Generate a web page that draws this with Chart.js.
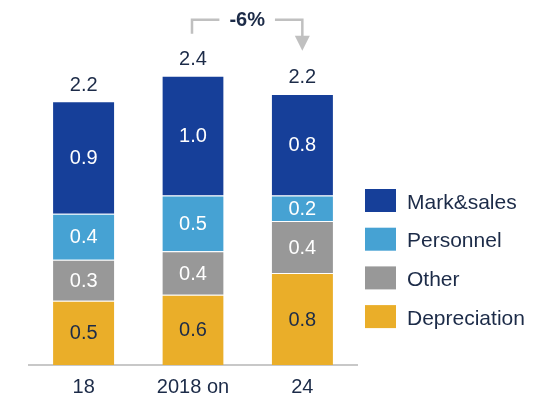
<!DOCTYPE html>
<html>
<head>
<meta charset="utf-8">
<script src="https://cdn.jsdelivr.net/npm/chart.js@4.4.1/dist/chart.umd.min.js"></script>
<style>
  html, body { margin: 0; padding: 0; background: #fff; }
</style>
</head>
<body>
<canvas id="costChart" width="549" height="397"></canvas>
<script>
const categories = ['18', '2018 on', '24'];
const depreciation = [0.53, 0.58, 0.76];
const other = [0.34, 0.36, 0.43];
const personnel = [0.38, 0.46, 0.21];
const markSales = [0.93, 0.99, 0.84];

const FONT = '"Liberation Sans", Arial, sans-serif';
const NAVY = '#1c2b48';

// value inside each stacked segment
const segmentLabels = {
  id: 'segmentLabels',
  afterDatasetsDraw(chart) {
    const ctx = chart.ctx;
    ctx.save();
    ctx.font = '20px ' + FONT;
    ctx.textAlign = 'center';
    ctx.textBaseline = 'middle';
    chart.data.datasets.forEach((ds, i) => {
      chart.getDatasetMeta(i).data.forEach((bar, j) => {
        ctx.fillStyle = ds.labelColor;
        ctx.fillText(ds.data[j].toFixed(1), bar.x, (bar.y + bar.base) / 2 + 1);
      });
    });
    ctx.restore();
  }
};

function stackTotal(chart, j) {
  return chart.data.datasets.reduce((s, ds) => s + ds.data[j], 0);
}

// totals above bars + the change arrow between the last two bars
const totalsAndChange = {
  id: 'totalsAndChange',
  afterDatasetsDraw(chart) {
    const ctx = chart.ctx;
    const last = chart.getDatasetMeta(chart.data.datasets.length - 1).data;
    ctx.save();
    ctx.font = '20px ' + FONT;
    ctx.fillStyle = NAVY;
    ctx.textAlign = 'center';
    ctx.textBaseline = 'middle';
    last.forEach((bar, j) => {
      ctx.fillText(stackTotal(chart, j).toFixed(1), bar.x, bar.y - 16);
    });

    const a = last[1], b = last[2];
    const pct = Math.round((stackTotal(chart, 2) / stackTotal(chart, 1) - 1) * 100);
    const hi = Math.min(a.y, b.y);
    const yTop = hi - 56;
    const x1 = a.x - 1, x2 = b.x;
    const mid = (x1 + x2) / 2;
    ctx.font = 'bold 20px ' + FONT;
    const label = pct + '%';
    const half = ctx.measureText(label).width / 2 + 10;

    ctx.strokeStyle = '#c0c0c0';
    ctx.fillStyle = '#c0c0c0';
    ctx.lineWidth = 2.5;
    ctx.beginPath();
    ctx.moveTo(x1, hi - 42);
    ctx.lineTo(x1, yTop);
    ctx.lineTo(mid - half, yTop);
    ctx.moveTo(mid + half, yTop);
    ctx.lineTo(x2, yTop);
    ctx.lineTo(x2, hi - 38);
    ctx.stroke();
    ctx.beginPath();
    ctx.moveTo(x2 - 7.5, hi - 40);
    ctx.lineTo(x2 + 7.5, hi - 40);
    ctx.lineTo(x2, hi - 25);
    ctx.closePath();
    ctx.fill();

    ctx.fillStyle = NAVY;
    ctx.fillText(label, mid, yTop + 1);
    ctx.restore();
  }
};

// legend on the right, top series first
const sideLegend = {
  id: 'sideLegend',
  afterDraw(chart) {
    const ctx = chart.ctx;
    const x = chart.chartArea.right + 8;
    const sets = chart.data.datasets.slice().reverse();
    ctx.save();
    ctx.font = '21px ' + FONT;
    ctx.textBaseline = 'middle';
    sets.forEach((ds, i) => {
      const y = 189 + i * 38.7;
      ctx.fillStyle = ds.backgroundColor;
      ctx.fillRect(x, y, 31, 23);
      ctx.fillStyle = NAVY;
      ctx.fillText(ds.label, x + 42, y + 14);
    });
    ctx.restore();
  }
};

new Chart('costChart', {
  type: 'bar',
  data: {
    labels: categories,
    datasets: [
      { label: 'Depreciation', data: depreciation, backgroundColor: '#eaae29', labelColor: NAVY },
      { label: 'Other', data: other, backgroundColor: '#989898', labelColor: '#ffffff' },
      { label: 'Personnel', data: personnel, backgroundColor: '#46a2d3', labelColor: '#ffffff' },
      { label: 'Mark&sales', data: markSales, backgroundColor: '#163f99', labelColor: '#ffffff' }
    ]
  },
  options: {
    responsive: false,
    animation: false,
    layout: { padding: { left: 29, right: 192, top: 2, bottom: 0 } },
    datasets: {
      bar: {
        categoryPercentage: 1,
        barPercentage: 0.56,
        borderWidth: { top: 1 },
        borderColor: 'rgba(255,255,255,0.5)',
        borderSkipped: 'bottom'
      }
    },
    scales: {
      x: {
        stacked: true,
        grid: { display: false, drawTicks: false },
        border: { display: true, color: '#c8c8c8', width: 2 },
        ticks: { color: NAVY, padding: 12, font: { family: FONT, size: 20, lineHeight: 1 } },
        afterFit(scale) { scale.height = 32; }
      },
      y: {
        stacked: true,
        display: false,
        min: 0,
        max: 3
      }
    },
    plugins: {
      legend: { display: false },
      tooltip: { enabled: false }
    }
  },
  plugins: [segmentLabels, totalsAndChange, sideLegend]
});
</script>
</body>
</html>
